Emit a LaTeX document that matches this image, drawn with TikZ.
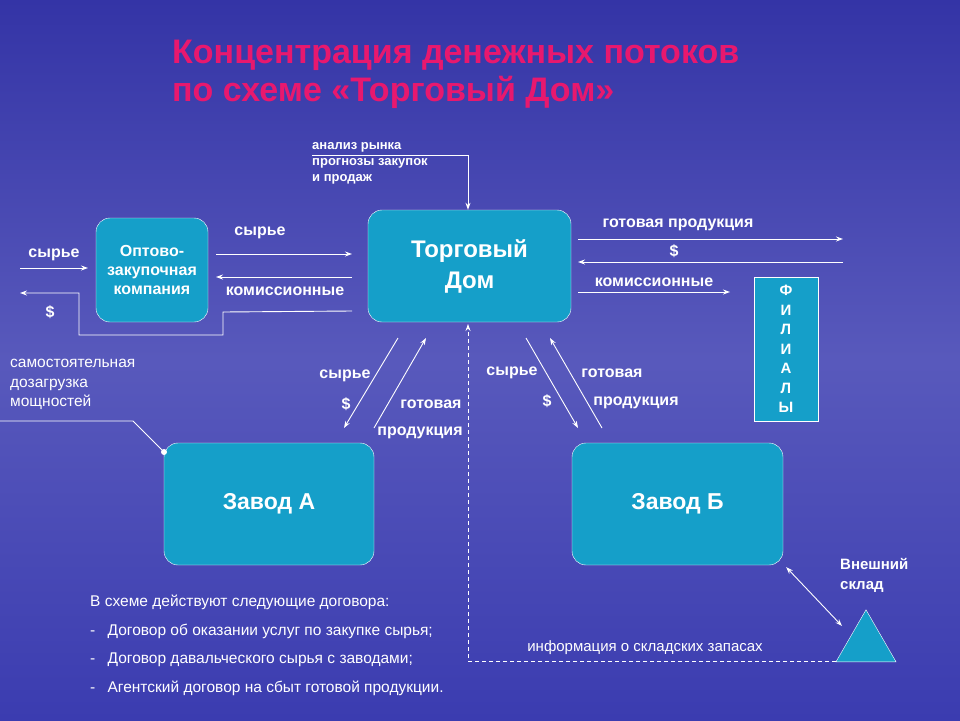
\documentclass[tikz,border=0pt]{standalone}
\usepackage{fontspec}
\setmainfont{Liberation Sans}
\usetikzlibrary{positioning, arrows.meta, shapes.geometric}
\definecolor{bgblue}{HTML}{3B3CB0}
\definecolor{bgtop}{HTML}{3434A6}
\definecolor{boxfill}{HTML}{159FC9}
\definecolor{titlered}{HTML}{E8186E}
\begin{document}
\begin{tikzpicture}[x=1pt,y=-1pt,>={Stealth[length=7pt,width=5pt]},
  box/.style={draw=white, fill=boxfill, rounded corners=14pt, text=white, font=\bfseries, align=center},
  flow/.style={->, white, line width=0.9pt},
  lbl/.style={text=white, font=\bfseries\fontsize{16}{18}\selectfont, inner sep=1pt},
  note/.style={text=white, font=\fontsize{16}{19}\selectfont, align=left, anchor=north west, inner sep=0pt}]
  \shade[top color=bgtop, bottom color=bgblue, middle color=bgblue!85!white] (0,0) rectangle (960,720);
  \useasboundingbox (0,0) rectangle (960,720);
  % title
  \node[anchor=west, inner sep=0pt, text=titlered, font=\bfseries\fontsize{34}{36}\selectfont] (title1) at (172,55) {Концентрация денежных потоков};
  \node[anchor=west, inner sep=0pt, text=titlered, font=\bfseries\fontsize{34}{36}\selectfont] (title2) at (172,92) {по схеме «Торговый Дом»};
  % boxes
  \node[box, minimum width=203pt, minimum height=112pt, font=\bfseries\fontsize{24}{31}\selectfont] (TD) at (469.5,266) {Торговый\\Дом};
  \node[box, minimum width=112pt, minimum height=104pt, font=\bfseries\fontsize{16}{19}\selectfont] (OPT) at (152,270) {Оптово-\\закупочная\\компания};
  \node[box, minimum width=210pt, minimum height=122pt, font=\bfseries\fontsize{23}{26}\selectfont] (ZA) at (269,504) {Завод А};
  \node[box, minimum width=211pt, minimum height=122pt, font=\bfseries\fontsize{23}{26}\selectfont] (ZB) at (677.5,504) {Завод Б};
  \node[draw=white, fill=boxfill, text=white, minimum width=64pt, minimum height=144pt, align=center, inner sep=0pt, font=\bfseries\fontsize{15}{19.5}\selectfont] (FIL) at (786,349) {Ф\\И\\Л\\И\\А\\Л\\Ы};
  \node[draw=white, fill=boxfill, isosceles triangle, isosceles triangle apex angle=60, shape border rotate=90, minimum height=52pt, inner sep=0pt, anchor=south] (SKL) at (866,662) {};
  % coordinates
  \coordinate (anA) at (312,155);
  \coordinate (inL) at (20,268);
  \coordinate (dolL) at (20,293);
  \coordinate (dashR) at (836,661);
  \coordinate (selfA) at (0,421);
  % top input
  \node[note, font=\bfseries\fontsize{13}{16}\selectfont] (anal) at (312,142) {анализ рынка\\прогнозы закупок\\и продаж};
  \draw[flow] (anA) -- (468,155) -- (TD.north -| 468,0);
  % left side
  \draw[flow] (inL) -- (88,268);
  \node[lbl] (syr0) at (54,255) {сырье};
  \draw[flow] (352,311) -- (223,312) -- (223,335) -- (79,335) -- (79,293) -- (dolL);
  \node[lbl] (dol0) at (50,312) {\$};
  \draw[flow] (216,254) -- (352,254);
  \node[lbl] (syr1) at (260,233) {сырье};
  \draw[flow] (352,277) -- (216,277);
  \node[lbl] (kom1) at (285,291) {комиссионные};
  % right side
  \draw[flow] (578,239) -- (843,239);
  \node[lbl] (gp) at (678,225) {готовая продукция};
  \draw[flow] (843,262) -- (578,262);
  \node[lbl] (dol2) at (674,251) {\$};
  \draw[flow] (578,292) -- (730,292);
  \node[lbl] (kom2) at (654,282) {комиссионные};
  % diagonals to Завод А
  \draw[flow] (398,338) -- (344,428);
  \draw[flow] (374,428) -- (426,338);
  \node[lbl] (syrA) at (345,376) {сырье};
  \node[lbl] (dolA) at (346,404) {\$};
  \node[lbl] (gotA) at (431,404) {готовая};
  \node[lbl] (prA) at (420,433) {продукция};
  % diagonals to Завод Б
  \draw[flow] (526,338) -- (578,428);
  \draw[flow] (602,428) -- (550,338);
  \node[lbl] (syrB) at (512,373) {сырье};
  \node[lbl] (dolB) at (547,401) {\$};
  \node[lbl] (gotB) at (612,373) {готовая};
  \node[lbl] (prB) at (636,403) {продукция};
  % warehouse
  \draw[<->, white, line width=0.9pt] (ZB.south east) ++(3,2) -- (842,626);
  \node[note, font=\bfseries\fontsize{15}{20}\selectfont] (sklL) at (840,558) {Внешний\\склад};
  \draw[->, white, line width=0.8pt, dash pattern=on 4pt off 3pt] (dashR) -- (468,661) -- (468,324);
  \node[text=white, font=\fontsize{15}{17}\selectfont] (info) at (645,648) {информация  о складских  запасах};
  % self loading
  \node[note, font=\fontsize{15.5}{19.5}\selectfont] (self) at (10,359) {самостоятельная\\дозагрузка\\мощностей};
  \draw[white, line width=0.9pt] (selfA) -- (133,421) -- (164,452);
  \fill[white] (164,452) circle (3pt);
  % contracts
  \node[note, font=\fontsize{15.5}{28.5}\selectfont] (dog) at (90,595) {В схеме действуют следующие  договора:\\-\hspace{8pt} Договор об оказании услуг  по закупке сырья;\\-\hspace{8pt} Договор давальческого сырья с заводами;\\-\hspace{8pt} Агентский договор на сбыт готовой продукции.};
\end{tikzpicture}
\end{document}
